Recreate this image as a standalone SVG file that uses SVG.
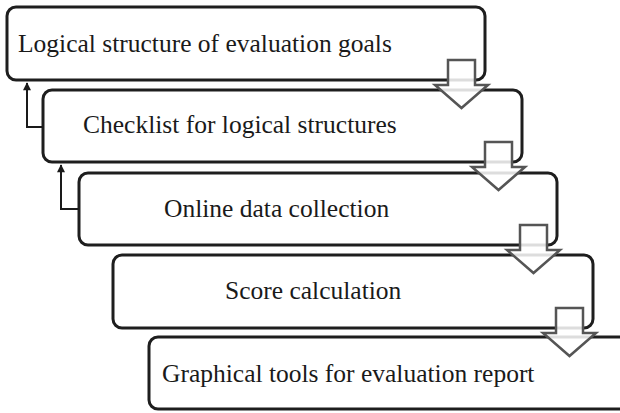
<svg xmlns="http://www.w3.org/2000/svg" width="620" height="413" viewBox="0 0 620 413">
<style>
.box{fill:#fff;stroke:#1e1e1e;stroke-width:3}
.lbl{font-family:'Liberation Serif','Times New Roman',serif;font-size:25.5px;fill:#1a1a1a}
.blk{fill:#fff;fill-opacity:0.85;stroke:#555;stroke-width:2.5;stroke-linejoin:miter}
.fb{fill:none;stroke:#1a1a1a;stroke-width:2}
</style>
<defs>
<marker id="ah" viewBox="0 0 10 10" refX="9" refY="5" markerWidth="4.5" markerHeight="4" orient="auto" markerUnits="strokeWidth">
<path d="M0 0 L10 5 L0 10 Z" fill="#1a1a1a"/>
</marker>
</defs>
<g id="node1"><rect class="box" x="7" y="7" width="478" height="73" rx="9"/><text class="lbl" x="18" y="52">Logical structure of evaluation goals</text></g>
<g id="node2"><rect class="box" x="43" y="90" width="479" height="72" rx="9"/><text class="lbl" x="83" y="133">Checklist for logical structures</text></g>
<g id="node3"><rect class="box" x="79" y="173" width="478" height="72" rx="9"/><text class="lbl" x="164" y="217">Online data collection</text></g>
<g id="node4"><rect class="box" x="113" y="255" width="480" height="73" rx="9"/><text class="lbl" x="225" y="299">Score calculation</text></g>
<g id="node5"><rect class="box" x="149" y="337" width="480" height="72" rx="9"/><text class="lbl" x="162" y="382">Graphical tools for evaluation report</text></g>
<g id="connectors">
<path class="fb" d="M43 127 H27 V83" marker-end="url(#ah)"/>
<path class="fb" d="M79 209 H61 V165" marker-end="url(#ah)"/>
<path class="blk" d="M448 60 H475 V85 H488 L461.5 108 L435 85 H448 Z"/>
<path class="blk" d="M485 142 H512 V167 H525 L498.5 190 L472 167 H485 Z"/>
<path class="blk" d="M520 225 H547 V250 H560 L533.5 273 L507 250 H520 Z"/>
<path class="blk" d="M556 308 H583 V333 H596 L569.5 356 L543 333 H556 Z"/>
</g>
</svg>
